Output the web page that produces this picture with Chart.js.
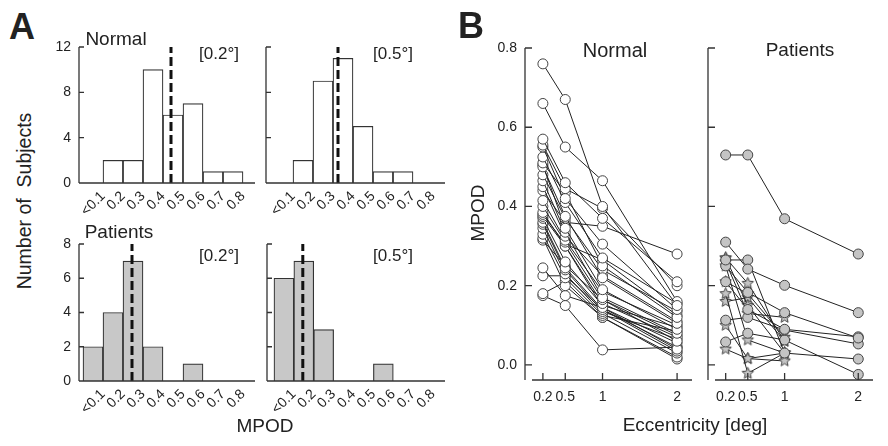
<!DOCTYPE html>
<html>
<head>
<meta charset="utf-8">
<script src="https://cdn.jsdelivr.net/npm/chart.js@4.4.0/dist/chart.umd.min.js"></script>
<style>
body{margin:0;background:#fff;}
#fig{position:relative;width:888px;height:446px;overflow:hidden;font-family:"Liberation Sans",Arial,sans-serif;color:#222;}
#fig canvas{position:absolute;}
.t{position:absolute;white-space:pre;transform:translate(-50%,-50%);line-height:1;}
.rot{transform:translate(-50%,-50%) rotate(-90deg);}
</style>
</head>
<body>
<div id="fig">
  <canvas id="hNorm02" width="222" height="191" style="left:43px;top:37px"></canvas>
  <canvas id="hNorm05" width="225" height="191" style="left:230px;top:37px"></canvas>
  <canvas id="hPat02" width="222" height="192" style="left:43px;top:234px"></canvas>
  <canvas id="hPat05" width="224" height="192" style="left:231px;top:234px"></canvas>
  <canvas id="bNormal" width="222" height="382" style="left:480px;top:38px"></canvas>
  <canvas id="bPatients" width="220" height="382" style="left:663px;top:38px"></canvas>

  <div class="t" style="left:22px;top:27px;font-size:36px;font-weight:bold">A</div>
  <div class="t" style="left:471px;top:26px;font-size:36px;font-weight:bold">B</div>
  <div class="t" style="left:116px;top:38px;font-size:19px">Normal</div>
  <div class="t" style="left:219px;top:53px;font-size:17px">[0.2°]</div>
  <div class="t" style="left:393px;top:53px;font-size:17px">[0.5°]</div>
  <div class="t" style="left:119px;top:231px;font-size:19px">Patients</div>
  <div class="t" style="left:219px;top:255px;font-size:17px">[0.2°]</div>
  <div class="t" style="left:393px;top:255px;font-size:17px">[0.5°]</div>
  <div class="t rot" style="left:25px;top:201px;font-size:19.5px">Number of  Subjects</div>
  <div class="t" style="left:265px;top:425px;font-size:19px">MPOD</div>
  <div class="t rot" style="left:477px;top:213px;font-size:19px">MPOD</div>
  <div class="t" style="left:615px;top:50px;font-size:20px">Normal</div>
  <div class="t" style="left:800px;top:49px;font-size:19px">Patients</div>
  <div class="t" style="left:695px;top:424px;font-size:19px">Eccentricity [deg]</div>
</div>
<script>
// histogram bins (MPOD), counts per bin
const binCenters = [0.05, 0.15, 0.25, 0.35, 0.45, 0.55, 0.65, 0.75];
const histTickValues = [0.1, 0.2, 0.3, 0.4, 0.5, 0.6, 0.7, 0.8];
const histTickLabels = ['<0.1', '0.2', '0.3', '0.4', '0.5', '0.6', '0.7', '0.8'];
const normalCounts02 = [0, 2, 2, 10, 6, 7, 1, 1];
const normalCounts05 = [0, 2, 9, 11, 5, 1, 1, 0];
const patientCounts02 = [2, 4, 7, 2, 0, 1, 0, 0];
const patientCounts05 = [6, 7, 3, 0, 0, 1, 0, 0];
const normalMedian02 = 0.44, normalMedian05 = 0.325;
const patientMedian02 = 0.245, patientMedian05 = 0.145;
const normalCountTicks = [0, 4, 8, 12];
const patientCountTicks = [0, 2, 4, 6, 8];

// panel B: MPOD per subject at each eccentricity
const eccentricity = [0.2, 0.5, 1, 2];
const eccTickLabels = ['0.2', '0.5', '1', '2'];
const mpodTicks = [0, 0.2, 0.4, 0.6, 0.8];
const normalMPOD = [
  [0.76, 0.67, 0.40, 0.15],
  [0.66, 0.55, 0.465, 0.16],
  [0.57, 0.46, 0.37, 0.21],
  [0.555, 0.445, 0.395, 0.20],
  [0.55, 0.42, 0.305, 0.14],
  [0.525, 0.41, 0.27, 0.155],
  [0.51, 0.435, 0.25, 0.12],
  [0.50, 0.375, 0.22, 0.105],
  [0.505, 0.345, 0.19, 0.09],
  [0.48, 0.37, 0.24, 0.135],
  [0.465, 0.335, 0.17, 0.08],
  [0.45, 0.325, 0.225, 0.11],
  [0.44, 0.36, 0.35, 0.28],
  [0.415, 0.315, 0.185, 0.10],
  [0.40, 0.31, 0.165, 0.06],
  [0.385, 0.30, 0.155, 0.07],
  [0.38, 0.305, 0.265, 0.125],
  [0.375, 0.30, 0.145, 0.04],
  [0.37, 0.26, 0.15, 0.095],
  [0.36, 0.245, 0.14, 0.035],
  [0.355, 0.24, 0.135, 0.065],
  [0.345, 0.23, 0.13, 0.03],
  [0.33, 0.22, 0.125, 0.085],
  [0.32, 0.20, 0.12, 0.02],
  [0.315, 0.25, 0.165, 0.075],
  [0.245, 0.175, 0.145, 0.055],
  [0.225, 0.225, 0.14, 0.045],
  [0.18, 0.21, 0.12, 0.015],
  [0.175, 0.15, 0.038, 0.045]
];
const patientCircleMPOD = [
  [0.53, 0.53, 0.369, 0.28],
  [0.31, 0.242, 0.201, 0.132],
  [0.265, 0.265, 0.03, 0.015],
  [0.25, 0.183, 0.132, 0.068],
  [0.21, 0.14, 0.09, 0.071],
  [0.113, 0.12, 0.088, 0.053],
  [0.058, 0.08, 0.063, -0.024]
];
const patientStarMPOD = [
  [0.27, 0.206, 0.06],
  [0.27, 0.15, 0.03],
  [0.26, 0.13, 0.12],
  [0.25, 0.063, 0.03],
  [0.21, 0.18, 0.07],
  [0.18, -0.021, 0.03],
  [0.16, 0.17, 0.06],
  [0.10, 0.016, 0.01],
  [0.04, 0.016, 0.03]
];

const FONT = '"Liberation Sans", Arial, sans-serif';

// axis lines + inward ticks
const axesPlugin = {
  id: 'axes',
  afterDatasetsDraw(chart, args, o){
    const {ctx, chartArea: a, scales: {x, y}} = chart;
    const yTop = y.getPixelForValue(o.yTop), yBot = y.getPixelForValue(o.yBottom);
    ctx.save();
    ctx.strokeStyle = '#333'; ctx.lineWidth = 1.3;
    ctx.beginPath();
    ctx.moveTo(a.left, yTop); ctx.lineTo(a.left, yBot);
    ctx.moveTo(a.left + o.xGap, yBot); ctx.lineTo(a.right, yBot);
    o.yTicks.forEach(v => { const p = y.getPixelForValue(v); ctx.moveTo(a.left, p); ctx.lineTo(a.left + o.tick, p); });
    (o.xTicks || []).forEach(v => { const p = x.getPixelForValue(v); ctx.moveTo(p, yBot); ctx.lineTo(p, yBot - o.tick); });
    ctx.stroke();
    ctx.restore();
  }
};

function histChart(id, counts, median, fill, yTicks, showY, xMin){
  const yMax = yTicks[yTicks.length - 1];
  return new Chart(document.getElementById(id), {
    type: 'bar',
    data: { datasets: [
      { type: 'line', order: 1, data: [{x: median, y: 0}, {x: median, y: yMax}],
        borderColor: '#111', borderWidth: 3, borderDash: [9, 4], pointRadius: 0 },
      { type: 'bar', order: 2, data: binCenters.map((c, i) => ({x: c, y: counts[i]})),
        backgroundColor: fill, borderColor: '#333', borderWidth: 1.2,
        barPercentage: 1, categoryPercentage: 1 }
    ]},
    options: {
      responsive: false, animation: false, events: [],
      layout: {padding: {top: 10, right: 10, left: 0, bottom: 0}},
      plugins: {legend: {display: false}, tooltip: {enabled: false},
        axes: {yTop: yMax, yBottom: 0, xGap: 0, tick: 5, yTicks: yTicks}},
      scales: {
        x: {type: 'linear', offset: false, min: xMin, max: 0.86,
          grid: {display: false, drawTicks: false}, border: {display: false},
          afterBuildTicks: s => { s.ticks = histTickValues.map(v => ({value: v})); },
          afterFit: s => { s.height = 45; s.paddingLeft = 0; s.paddingRight = 0; },
          ticks: {autoSkip: false, minRotation: 45, maxRotation: 45, padding: 5, color: '#222',
            font: {family: FONT, size: 14}, callback: (v, i) => histTickLabels[i]}},
        y: {min: 0, max: yMax,
          grid: {display: false, drawTicks: false}, border: {display: false},
          afterBuildTicks: s => { s.ticks = yTicks.map(v => ({value: v})); },
          afterFit: s => { s.width = 36; s.paddingTop = 0; s.paddingBottom = 0; },
          ticks: {display: showY, padding: 8, color: '#222', font: {family: FONT, size: 14}}}
      }
    },
    plugins: [axesPlugin]
  });
}

function makeStar(r){
  const c = document.createElement('canvas');
  const s = Math.ceil(r * 2 + 3);
  c.width = s; c.height = s;
  const g = c.getContext('2d');
  g.beginPath();
  for(let i = 0; i < 10; i++){
    const ang = -Math.PI / 2 + i * Math.PI / 5;
    const rr = i % 2 ? r * 0.45 : r;
    g.lineTo(s / 2 + rr * Math.cos(ang), s / 2 + rr * Math.sin(ang));
  }
  g.closePath();
  g.fillStyle = '#c4c4c4'; g.fill();
  g.strokeStyle = '#444'; g.lineWidth = 1; g.stroke();
  return c;
}

function subjectSet(row, opts){
  return Object.assign({
    data: row.map((v, i) => ({x: eccentricity[i], y: v})),
    borderColor: '#222', borderWidth: 1, pointRadius: 5,
    pointBorderColor: '#444', pointBorderWidth: 1, clip: false
  }, opts);
}

function mpodChart(id, datasets, showY){
  return new Chart(document.getElementById(id), {
    type: 'line',
    data: {datasets},
    options: {
      responsive: false, animation: false, events: [],
      layout: {padding: {top: 10, right: 10, left: 0, bottom: 0}},
      plugins: {legend: {display: false}, tooltip: {enabled: false},
        axes: {yTop: 0.8, yBottom: -0.038, xGap: 7, tick: 7, yTicks: mpodTicks, xTicks: eccentricity}},
      scales: {
        x: {type: 'linear', min: -0.04, max: 2.2,
          grid: {display: false, drawTicks: false}, border: {display: false},
          afterBuildTicks: s => { s.ticks = eccentricity.map(v => ({value: v})); },
          afterFit: s => { s.height = 40; s.paddingLeft = 0; s.paddingRight = 0; },
          ticks: {autoSkip: false, maxRotation: 0, minRotation: 0, padding: 9, color: '#222',
            font: {family: FONT, size: 14}, callback: (v, i) => eccTickLabels[i]}},
        y: {min: -0.038, max: 0.8,
          grid: {display: false, drawTicks: false}, border: {display: false},
          afterBuildTicks: s => { s.ticks = mpodTicks.map(v => ({value: v})); },
          afterFit: s => { s.width = 45; s.paddingTop = 0; s.paddingBottom = 0; },
          ticks: {display: showY, padding: 8, color: '#222', font: {family: FONT, size: 14},
            callback: v => Number(v).toFixed(1)}}
      }
    },
    plugins: [axesPlugin]
  });
}

histChart('hNorm02', normalCounts02, normalMedian02, '#ffffff', normalCountTicks, true, -0.02);
histChart('hNorm05', normalCounts05, normalMedian05, '#ffffff', normalCountTicks, false, -0.035);
histChart('hPat02', patientCounts02, patientMedian02, '#c8c8c8', patientCountTicks, true, -0.02);
histChart('hPat05', patientCounts05, patientMedian05, '#c8c8c8', patientCountTicks, false, -0.035);

mpodChart('bNormal', normalMPOD.map(r => subjectSet(r, {pointBackgroundColor: '#ffffff'})), true);

const star = makeStar(6);
mpodChart('bPatients',
  patientCircleMPOD.map(r => subjectSet(r, {pointBackgroundColor: '#c4c4c4'}))
    .concat(patientStarMPOD.map(r => subjectSet(r, {pointStyle: star}))),
  false);
</script>
</body>
</html>
